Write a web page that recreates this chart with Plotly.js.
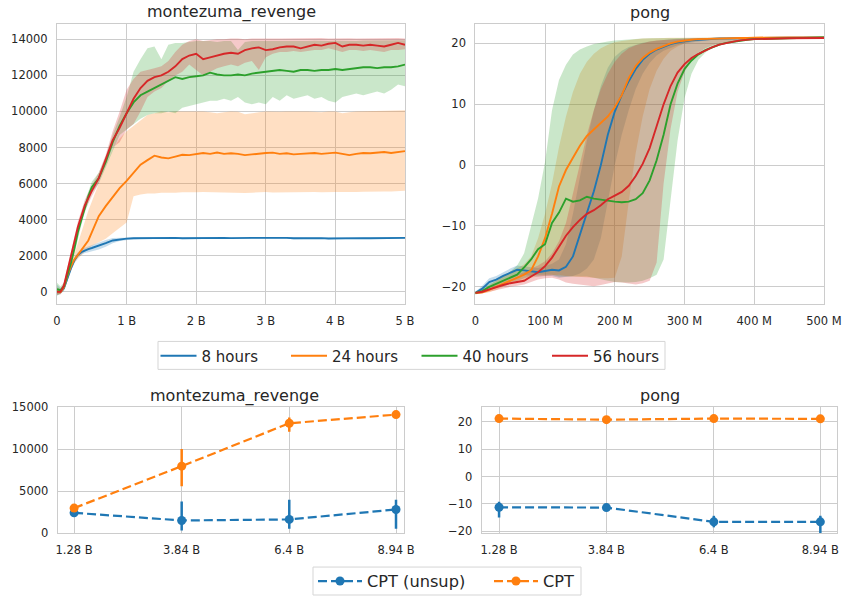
<!DOCTYPE html>
<html><head><meta charset="utf-8">
<script src="https://cdn.plot.ly/plotly-3.0.1.min.js"></script>
<style>html,body{margin:0;padding:0;background:#fff}</style>
</head><body><div id="chart" style="width:845px;height:599px"></div>
<script>
// ---------- montezuma_revenge (top) : x in billions of frames ----------
const mX = [0,0.05,0.1,0.15,0.2,0.25,0.3,0.35,0.4,0.45,0.5,
  0.6,0.7,0.8,0.9,1.0,1.1,1.2,1.3,1.4,1.5,1.6,1.7,1.8,1.9,2.0,
  2.1,2.2,2.3,2.4,2.5,2.6,2.7,2.8,2.9,3.0,3.1,3.2,3.3,3.4,3.5,3.6,3.7,3.8,3.9,4.0,
  4.1,4.2,4.3,4.4,4.5,4.6,4.7,4.8,4.9,5.0];

const m8 = [100,30,200,800,1300,1750,2050,2200,2300,2370,2430,
  2550,2700,2850,2920,2950,
  2970,2980,2985,2960,2970,2980,2990,2970,2980,2990,
  2980,2990,2980,2990,2980,2970,2980,2990,2990,2995,
  2985,2980,2990,2970,2980,2975,2985,2980,2960,2970,
  2980,2985,2975,2980,2970,2980,2985,2990,2985,2990];
const m8Lo = [-200,-100,50,650,1150,1600,1900,2050,2150,2200,2250,
  2350,2500,2700,2820,2880,
  2910,2930,2940,2910,2920,2940,2950,2930,2940,2950,
  2940,2950,2940,2950,2940,2930,2940,2950,2950,2955,
  2945,2940,2950,2920,2940,2935,2945,2940,2910,2930,
  2940,2945,2935,2940,2930,2940,2945,2950,2945,2950];
const m8Hi = [400,200,350,950,1450,1900,2200,2350,2450,2550,2620,
  2750,2880,2980,3000,3010,
  3020,3020,3025,3005,3010,3020,3030,3010,3020,3030,
  3020,3030,3020,3030,3020,3010,3020,3030,3030,3035,
  3025,3020,3030,3010,3020,3015,3025,3020,3000,3010,
  3020,3025,3015,3020,3010,3020,3025,3030,3025,3030];

const m24 = [50,0,250,900,1400,1800,2050,2300,2550,2850,3300,
  4200,4750,5250,5750,6150,
  6600,7050,7300,7550,7450,7400,7500,7600,7580,7650,
  7700,7650,7720,7650,7680,7650,7580,7620,7680,7700,
  7720,7650,7680,7620,7650,7680,7700,7650,7700,7720,
  7650,7580,7650,7700,7680,7720,7750,7700,7750,7800];
const m24Lo = [-150,-100,100,700,1200,1600,1850,2050,2250,2400,2550,
  2750,2950,3250,3550,3850,
  5300,5400,5450,5450,5500,5480,5500,5520,5500,5520,
  5530,5520,5500,5520,5510,5500,5480,5500,5520,5530,
  5510,5520,5530,5500,5510,5520,5530,5520,5510,5530,
  5540,5520,5530,5550,5540,5550,5560,5570,5580,5600];
const m24Hi = [250,150,400,1100,1600,2100,2600,3300,3900,4500,5100,
  6000,7000,7900,8500,8900,
  9200,9500,9800,9900,10000,9950,10000,10000,10010,10000,
  10000,9950,9900,9950,10000,9980,9850,9900,9950,10000,
  10000,9980,10000,10010,10000,10000,9990,9950,10000,10000,
  9900,9950,10000,10020,10010,10030,10040,10050,10050,10060];

const m40 = [150,100,300,900,1600,2400,3300,4000,4700,5300,5800,
  6300,7200,8300,9200,9900,
  10500,10900,11100,11300,11500,11700,11900,11800,11900,11950,
  12000,12150,12050,12000,12000,12050,12000,12100,12150,12200,
  12250,12300,12250,12200,12300,12300,12250,12300,12300,12350,
  12300,12350,12400,12450,12450,12400,12450,12450,12500,12600];
const m40Lo = [-200,-100,100,600,1300,2100,3000,3700,4400,5000,5500,
  6000,6900,7900,8700,9000,
  9300,9600,9800,9900,9900,10000,9900,10200,10300,10400,
  10500,10600,10600,10700,10600,10800,10500,10400,10500,10400,
  10800,10600,10900,10700,10800,10900,10700,10800,10600,10500,
  10800,10900,11000,10900,11000,11100,11000,11200,11500,11400];
const m40Hi = [500,300,500,1200,1900,2700,3600,4300,5000,5600,6100,
  6600,7500,8700,9700,10800,
  12200,12900,13500,13600,12900,13700,13800,13800,13850,13900,
  13900,13900,13850,13900,13900,13400,13850,13900,13900,13900,
  13920,13900,13900,13920,13900,13900,13920,13930,13900,13920,
  13930,13920,13900,13930,13940,13930,13920,13940,13950,13950];

const m56 = [0,0,350,1200,2000,2800,3600,4200,4800,5200,5600,
  6300,7300,8400,9100,9900,
  10700,11300,11700,11900,12000,12200,12500,12900,13100,13200,
  12900,13000,13100,13200,13250,13200,13400,13500,13550,13400,
  13450,13550,13600,13600,13500,13600,13700,13650,13750,13800,
  13600,13700,13700,13650,13700,13650,13600,13700,13800,13700];
const m56Lo = [-150,-150,150,950,1750,2550,3300,3900,4500,4900,5300,
  6000,7000,8000,8300,9000,
  9300,10000,10800,11100,11300,11700,12000,12200,12600,12300,
  12000,12200,12400,12500,12600,12500,12700,12800,12300,13000,
  13200,13300,13300,13350,13300,13350,13400,13400,13500,13400,
  13300,13400,13400,13350,13400,13350,13300,13400,13400,13450];
const m56Hi = [150,150,550,1450,2250,3050,3900,4500,5100,5500,5900,
  6600,7600,8900,10000,11200,
  11800,12200,12300,12400,12500,12800,13300,13700,13900,14000,
  13900,13950,14000,14000,14050,14050,14000,14050,14050,14050,
  14050,14050,14050,14060,14050,14050,14060,14070,14050,14060,
  14050,14060,14050,14060,14050,14060,14050,14060,14070,14050];

// ---------- pong (top) : x in millions of frames ----------
const pX = [0,10,20,30,40,50,60,70,80,90,100,110,120,130,140,150,160,170,180,190,
  200,210,220,230,240,250,260,270,280,290,300,310,320,330,340,350,360,370,380,390,400,450,500];

const p8 = [-21,-20.3,-19.2,-18.8,-18.2,-17.7,-17.2,-17.3,-17.5,-17.6,
  -17.4,-17.2,-17.3,-16.7,-15,-11.5,-7.8,-4.3,0,5,
  8.8,11.5,13.8,15.8,17.3,18.3,19,19.5,19.9,20.2,
  20.4,20.5,20.6,20.7,20.75,20.8,20.8,20.85,20.9,20.9,
  20.9,20.95,21];
const p8Lo = [-21.2,-20.8,-19.8,-19.3,-18.8,-18.4,-18,-18,-18.2,-18.3,
  -18.2,-18.2,-18.5,-18.3,-18.2,-17.8,-17,-15.5,-12,-6,
  0,5,9,12.5,15,16.8,18,18.8,19.3,19.7,
  20,20.2,20.4,20.5,20.6,20.7,20.7,20.8,20.8,20.8,
  20.85,20.9,20.95];
const p8Hi = [-20.8,-19.8,-18.6,-18.2,-17.6,-17,-16.5,-16.6,-16.8,-16.9,
  -16.6,-16.2,-15.5,-13,-8,-2,4,9,13,16,
  17.8,18.8,19.4,19.8,20.1,20.3,20.5,20.6,20.7,20.75,
  20.8,20.8,20.85,20.85,20.9,20.9,20.9,20.9,20.95,20.95,
  20.95,21,21.05];

const p24 = [-21,-20.9,-20.5,-20,-19.5,-19,-18.5,-18,-17.3,-15,
  -12,-8,-3.5,-0.8,1.2,3.2,4.8,5.9,7,8,
  9.5,11.5,14.3,16.3,17.6,18.5,19.1,19.6,20,20.3,
  20.5,20.6,20.7,20.75,20.8,20.8,20.85,20.9,20.9,20.9,
  20.95,21,21];
const p24Lo = [-21.2,-21.1,-20.9,-20.5,-20,-19.5,-19.2,-18.8,-18.5,-18.3,
  -18.2,-18,-18,-18.2,-18.3,-18.3,-18.4,-18.5,-18.6,-18.6,
  -18.5,-15,-6,2,8,12.5,15.5,17.5,18.8,19.5,
  20,20.3,20.5,20.6,20.7,20.75,20.8,20.8,20.85,20.85,
  20.9,20.95,20.95];
const p24Hi = [-20.8,-20.5,-19.8,-19,-18.2,-17.5,-17,-16.3,-15,-12,
  -8,-3,3,8,12,15,17,18.3,19.2,19.8,
  20.2,20.4,20.6,20.7,20.8,20.85,20.9,20.9,20.95,20.95,
  21,21,21,21,21,21,21,21,21,21,
  21,21.05,21.05];

const p40 = [-21,-20.7,-20,-19.5,-19,-18.5,-18,-16.8,-15.5,-13.8,
  -13,-9.5,-7.8,-5.5,-6,-5.8,-5.2,-5.5,-5.7,-5.9,
  -6,-6.1,-6,-5.6,-4.6,-2.5,0.8,5,10,13.4,
  15.8,17.2,18.2,18.9,19.4,19.8,20.1,20.3,20.5,20.6,
  20.7,20.9,21];
const p40Lo = [-21.2,-21,-20.5,-20,-19.6,-19.2,-19,-18.6,-18.2,-18,
  -18,-18,-18.3,-18.3,-18.2,-18.2,-18.3,-18.5,-18.8,-19,
  -19.2,-19.3,-19.3,-19.2,-19,-18.6,-18,-15.5,-6,4,
  11,15,17.3,18.5,19.3,19.8,20.1,20.3,20.5,20.6,
  20.7,20.85,20.95];
const p40Hi = [-20.8,-20.3,-19.5,-19,-18.3,-17.5,-16.5,-14.5,-10,-5.5,
  0.5,9,14,16.5,18.2,19,19.5,19.9,20.1,20.3,
  20.5,20.6,20.7,20.75,20.8,20.85,20.9,20.9,20.9,20.95,
  20.95,21,21,21,21,21,21,21,21,21,
  21,21.05,21.05];

const p56 = [-21,-20.8,-20.4,-20,-19.7,-19.4,-19.2,-19,-18.3,-17.6,
  -16.6,-15.2,-13.4,-11.6,-10.2,-9,-8,-7.4,-6.6,-5.6,
  -5,-4.4,-3.4,-1.8,0.2,2.8,6.4,10,13,15.2,
  16.6,17.6,18.3,18.9,19.4,19.8,20.1,20.3,20.5,20.6,
  20.7,20.85,20.9];
const p56Lo = [-21.2,-21.1,-20.8,-20.5,-20.2,-20,-19.8,-19.6,-19.2,-18.8,
  -18.6,-18.5,-18.8,-19.3,-19.5,-19.6,-19.8,-19.9,-19.7,-19.4,
  -19.2,-19.3,-19.5,-19.6,-19.4,-19,-16,-3,6,12,
  15.3,17.3,18.5,19.2,19.7,20,20.2,20.4,20.5,20.6,
  20.7,20.8,20.9];
const p56Hi = [-20.8,-20.5,-20,-19.5,-19,-18.5,-18,-17.6,-17,-16.5,
  -15.8,-14.5,-12.5,-9.5,-5,0,5,9,12.5,15,
  17,18.3,19.2,19.7,20,20.3,20.5,20.6,20.7,20.75,
  20.8,20.85,20.9,20.9,20.95,20.95,21,21,21,21,
  21,21,21];

// ---------- bottom panels ----------
const bX = [1.28, 3.84, 6.4, 8.94];
const bTicks = ['1.28 B','3.84 B','6.4 B','8.94 B'];
const mUnsup = [2420, 1510, 1630, 2820];
const mUnsupUp = [150, 2260, 2340, 1150];
const mUnsupDn = [150, 1190, 1110, 2300];
const mCpt = [2980, 7980, 13100, 14130];
const mCptUp = [150, 2060, 700, 150];
const mCptDn = [150, 2380, 1000, 150];
const pUnsup = [-11.2, -11.3, -16.5, -16.5];
const pUnsupUp = [2.0, 0.5, 2.2, 2.2];
const pUnsupDn = [3.7, 0.5, 2.0, 4.6];
const pCpt = [21.1, 20.7, 21.1, 21.0];
const pCptUp = [0.2, 0.2, 0.2, 0.2];
const pCptDn = [0.2, 0.2, 0.2, 0.2];

const seriesNames = ['8 hours','24 hours','40 hours','56 hours'];
const colors = ['#1f77b4','#ff7f0e','#2ca02c','#d62728'];
const fills = ['rgba(31,119,180,0.25)','rgba(255,127,14,0.25)','rgba(44,160,44,0.25)','rgba(214,39,40,0.25)'];

const montMeans = [m8, m24, m40, m56];
const montLos = [m8Lo, m24Lo, m40Lo, m56Lo];
const montHis = [m8Hi, m24Hi, m40Hi, m56Hi];
const pongMeans = [p8, p24, p40, p56];
const pongLos = [p8Lo, p24Lo, p40Lo, p56Lo];
const pongHis = [p8Hi, p24Hi, p40Hi, p56Hi];

const traces = [];
function band(X, lo, hi, i, xa, ya){
  traces.push({type:'scatter', mode:'lines', x:X.concat(X.slice().reverse()),
    y:lo.concat(hi.slice().reverse()), fill:'toself', fillcolor:fills[i],
    line:{width:0, color:fills[i]}, hoverinfo:'skip', showlegend:false, xaxis:xa, yaxis:ya});
}
for (let i=0;i<4;i++) band(mX, montLos[i], montHis[i], i, 'x', 'y');
for (let i=0;i<4;i++) band(pX, pongLos[i], pongHis[i], i, 'x2', 'y2');
for (let i=0;i<4;i++) traces.push({type:'scatter', mode:'lines', x:mX, y:montMeans[i], name:seriesNames[i],
  line:{color:colors[i], width:1.9}, xaxis:'x', yaxis:'y', legend:'legend'});
for (let i=0;i<4;i++) traces.push({type:'scatter', mode:'lines', x:pX, y:pongMeans[i], name:seriesNames[i],
  line:{color:colors[i], width:1.9}, xaxis:'x2', yaxis:'y2', showlegend:false});

function errTrace(y, up, dn, color, name, xa, ya, show){
  return {type:'scatter', mode:'lines+markers', x:bX, y:y, name:name,
    line:{color:color, width:2.2, dash:'9px,4px'}, marker:{color:color, size:9},
    error_y:{type:'data', symmetric:false, array:up, arrayminus:dn, color:color, thickness:2.5, width:0},
    xaxis:xa, yaxis:ya, legend:'legend2', showlegend:show};
}
traces.push(errTrace(mUnsup, mUnsupUp, mUnsupDn, colors[0], 'CPT (unsup)', 'x3', 'y3', true));
traces.push(errTrace(mCpt, mCptUp, mCptDn, colors[1], 'CPT', 'x3', 'y3', true));
traces.push(errTrace(pUnsup, pUnsupUp, pUnsupDn, colors[0], 'CPT (unsup)', 'x4', 'y4', false));
traces.push(errTrace(pCpt, pCptUp, pCptDn, colors[1], 'CPT', 'x4', 'y4', false));

const FONT = 'DejaVu Sans';
function ax(extra, fs){
  return Object.assign({showgrid:true, gridcolor:'#cccccc', gridwidth:1, zeroline:false,
    showline:true, linecolor:'#cccccc', linewidth:1, mirror:true,
    ticks:'outside', ticklen:6, tickcolor:'rgba(0,0,0,0)',
    tickfont:{family:FONT, size:fs||11.5, color:'#262626'}, fixedrange:true}, extra);
}
const W=845, H=599;
const px = v => v/W, py = v => 1 - v/H;
const montTicks = [0,2000,4000,6000,8000,10000,12000,14000];
const montBotTicks = [0,5000,10000,15000];

const layout = {
  width:W, height:H, margin:{l:0,r:0,t:0,b:0},
  paper_bgcolor:'#ffffff', plot_bgcolor:'#ffffff',
  font:{family:FONT, color:'#262626'},
  xaxis: ax({domain:[px(57),px(405)], range:[0,5], tickvals:[0,1,2,3,4,5], ticktext:['0','1 B','2 B','3 B','4 B','5 B'], anchor:'y'}),
  yaxis: ax({domain:[py(305),py(24)], range:[-700,14850], tickvals:montTicks, ticktext:montTicks.map(String), anchor:'x'}),
  xaxis2: ax({domain:[px(475.3),px(824)], range:[0,500], tickvals:[0,100,200,300,400,500], ticktext:['0','100 M','200 M','300 M','400 M','500 M'], anchor:'y2'}),
  yaxis2: ax({domain:[py(305),py(24)], range:[-22.9,23.2], tickvals:[-20,-10,0,10,20], anchor:'x2'}),
  xaxis3: ax({domain:[px(57.7),px(404)], range:[0.89,9.13], tickvals:bX, ticktext:bTicks, anchor:'y3'}, 11.5),
  yaxis3: ax({domain:[py(534),py(408)], range:[0,15000], tickvals:montBotTicks, ticktext:montBotTicks.map(String), anchor:'x3'}, 11.5),
  xaxis4: ax({domain:[px(481.7),px(836.7)], range:[0.866,9.33], tickvals:bX, ticktext:bTicks, anchor:'y4'}, 11.5),
  yaxis4: ax({domain:[py(534),py(408)], range:[-20.6,25.2], tickvals:[-20,-10,0,10,20], anchor:'x4'}, 11.5),
  legend: {orientation:'h', x:px(155.5), y:py(356), xanchor:'left', yanchor:'middle',
    bgcolor:'rgba(0,0,0,0)', borderwidth:0, font:{family:FONT, size:15, color:'#262626'},
    itemwidth:36, entrywidth:79.5, entrywidthmode:'pixels'},
  legend2: {orientation:'h', x:px(313), y:py(582), xanchor:'left', yanchor:'middle',
    bgcolor:'rgba(0,0,0,0)', borderwidth:0, font:{family:FONT, size:16.2, color:'#262626'},
    itemwidth:44, entrywidth:117, entrywidthmode:'pixels'},
  shapes: [
    {type:'rect', xref:'paper', yref:'paper', x0:px(158), x1:px(665), y0:py(370), y1:py(342), fillcolor:'#ffffff', line:{color:'#d5d5d5', width:1}, layer:'below'},
    {type:'rect', xref:'paper', yref:'paper', x0:px(313), x1:px(581), y0:py(596), y1:py(568), fillcolor:'#ffffff', line:{color:'#d5d5d5', width:1}, layer:'below'}
  ],
  annotations: [
    {text:'montezuma_revenge', xref:'paper', yref:'paper', x:px(231), y:py(12.5), xanchor:'center', yanchor:'middle', showarrow:false, font:{family:FONT, size:16, color:'#262626'}},
    {text:'pong', xref:'paper', yref:'paper', x:px(649.5), y:py(12.5), xanchor:'center', yanchor:'middle', showarrow:false, font:{family:FONT, size:16, color:'#262626'}},
    {text:'montezuma_revenge', xref:'paper', yref:'paper', x:px(235), y:py(396.5), xanchor:'center', yanchor:'middle', showarrow:false, font:{family:FONT, size:16, color:'#262626'}},
    {text:'pong', xref:'paper', yref:'paper', x:px(660), y:py(396.5), xanchor:'center', yanchor:'middle', showarrow:false, font:{family:FONT, size:16, color:'#262626'}}
  ],
  showlegend:true
};
Plotly.newPlot('chart', traces, layout, {staticPlot:true, displayModeBar:false});
</script></body></html>
